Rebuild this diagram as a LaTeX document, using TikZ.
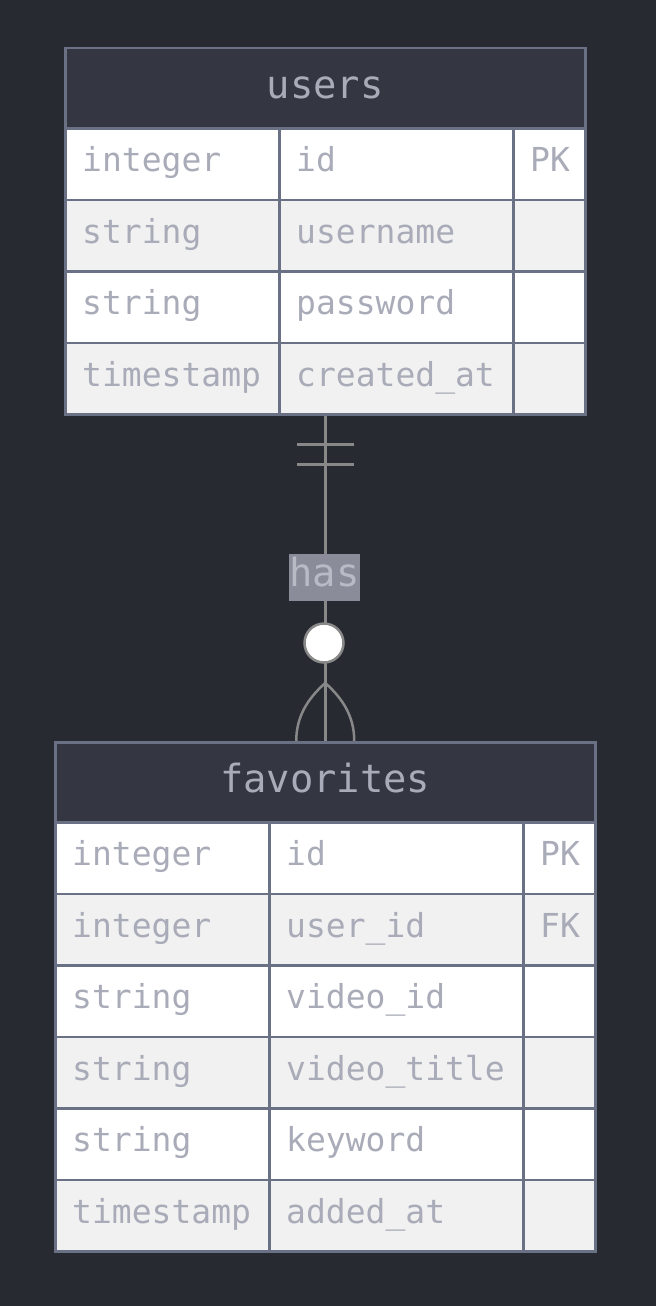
\documentclass[tikz,border=0pt]{standalone}
\usepackage{fontspec}
\newfontfamily\dmono{DejaVu Sans Mono}
\usetikzlibrary{calc}
\definecolor{bgc}{HTML}{282A32}
\definecolor{headc}{HTML}{343741}
\definecolor{borderc}{HTML}{6B7185}
\definecolor{txtc}{HTML}{A9ACB8}
\definecolor{altc}{HTML}{F1F1F1}
\definecolor{connc}{HTML}{888888}
\definecolor{lblfill}{HTML}{8A8D99}
\definecolor{lbltxt}{HTML}{B8BBC5}
\tikzset{
  cellbox/.style={draw=borderc, line width=2.5pt, inner sep=0pt, minimum height=71.5pt, anchor=north west},
  celltxt/.style={text=txtc, font=\dmono\fontsize{33}{40}\selectfont, inner sep=0pt, anchor=base west},
  headbox/.style={draw=borderc, fill=headc, line width=2.5pt, inner sep=0pt, minimum height=80pt, anchor=north west},
  headtxt/.style={text=txtc, font=\dmono\fontsize{38.8}{46}\selectfont, inner sep=0pt, anchor=base},
  framebox/.style={draw=borderc, line width=2.5pt, inner sep=0pt, anchor=north west},
  conn/.style={draw=connc, line width=2.5pt},
  lblbox/.style={fill=lblfill, text=lbltxt, font=\dmono\fontsize{38.8}{46}\selectfont, inner sep=0pt, minimum width=71pt, minimum height=47pt, text height=26pt, text depth=8pt},
  circbox/.style={circle, draw=connc, fill=white, line width=2.5pt, minimum size=39pt, inner sep=0pt}
}
% \ercell{name}{x}{y}{width}{fill}{text}
\newcommand{\ercell}[6]{%
  \node[cellbox, fill=#5, minimum width=#4pt] (#1) at (#2,#3) {};
  \node[celltxt] (#1t) at ([xshift=18pt, yshift=-44.5pt]#1.north west) {#6};
}
\begin{document}
\begin{tikzpicture}[x=1pt, y=-1pt]
\fill[bgc] (0,0) rectangle (656,1306);
\useasboundingbox (0,0) rectangle (656,1306);

% ---------- users ----------
\node[headbox, minimum width=520pt] (usersHead) at (64,47) {};
\node[headtxt] (usersTitle) at ([yshift=-51pt]usersHead.north) {users};
\ercell{u11}{64}{127}{214}{white}{integer}
\ercell{u12}{278}{127}{234}{white}{id}
\ercell{u13}{512}{127}{72}{white}{PK}
\ercell{u21}{64}{198.5}{214}{altc}{string}
\ercell{u22}{278}{198.5}{234}{altc}{username}
\ercell{u23}{512}{198.5}{72}{altc}{}
\ercell{u31}{64}{270}{214}{white}{string}
\ercell{u32}{278}{270}{234}{white}{password}
\ercell{u33}{512}{270}{72}{white}{}
\ercell{u41}{64}{341.5}{214}{altc}{timestamp}
\ercell{u42}{278}{341.5}{234}{altc}{created\_at}
\ercell{u43}{512}{341.5}{72}{altc}{}
\node[framebox, minimum width=520pt, minimum height=366pt] (users) at (64,47) {};

% ---------- favorites ----------
\node[headbox, minimum width=540pt] (favHead) at (54,741) {};
\node[headtxt] (favTitle) at ([yshift=-51pt]favHead.north) {favorites};
\ercell{f11}{54}{821}{214}{white}{integer}
\ercell{f12}{268}{821}{254}{white}{id}
\ercell{f13}{522}{821}{72}{white}{PK}
\ercell{f21}{54}{892.5}{214}{altc}{integer}
\ercell{f22}{268}{892.5}{254}{altc}{user\_id}
\ercell{f23}{522}{892.5}{72}{altc}{FK}
\ercell{f31}{54}{964}{214}{white}{string}
\ercell{f32}{268}{964}{254}{white}{video\_id}
\ercell{f33}{522}{964}{72}{white}{}
\ercell{f41}{54}{1035.5}{214}{altc}{string}
\ercell{f42}{268}{1035.5}{254}{altc}{video\_title}
\ercell{f43}{522}{1035.5}{72}{altc}{}
\ercell{f51}{54}{1107}{214}{white}{string}
\ercell{f52}{268}{1107}{254}{white}{keyword}
\ercell{f53}{522}{1107}{72}{white}{}
\ercell{f61}{54}{1178.5}{214}{altc}{timestamp}
\ercell{f62}{268}{1178.5}{254}{altc}{added\_at}
\ercell{f63}{522}{1178.5}{72}{altc}{}
\node[framebox, minimum width=540pt, minimum height=509pt] (favorites) at (54,741) {};

% ---------- relationship ----------
\draw[conn] (users.south) -- (favorites.north);
% one-and-only-one marks
\draw[conn] ($(users.south)+(-28.5,29)$) -- ($(users.south)+(28.5,29)$);
\draw[conn] ($(users.south)+(-28.5,49)$) -- ($(users.south)+(28.5,49)$);
% crow's foot
\coordinate (cf) at (favorites.north);
\draw[conn] ($(cf)+(0,-58)$) .. controls ($(cf)+(-18,-42)$) and ($(cf)+(-29,-24)$) .. ($(cf)+(-29,0)$);
\draw[conn] ($(cf)+(0,-58)$) .. controls ($(cf)+(18,-42)$) and ($(cf)+(29,-24)$) .. ($(cf)+(29,0)$);
% label
\node[lblbox] (hasLbl) at (324.5,577.5) {has};
% zero-or-many circle
\node[circbox] (zeroCirc) at (324,643) {};
\end{tikzpicture}
\end{document}
